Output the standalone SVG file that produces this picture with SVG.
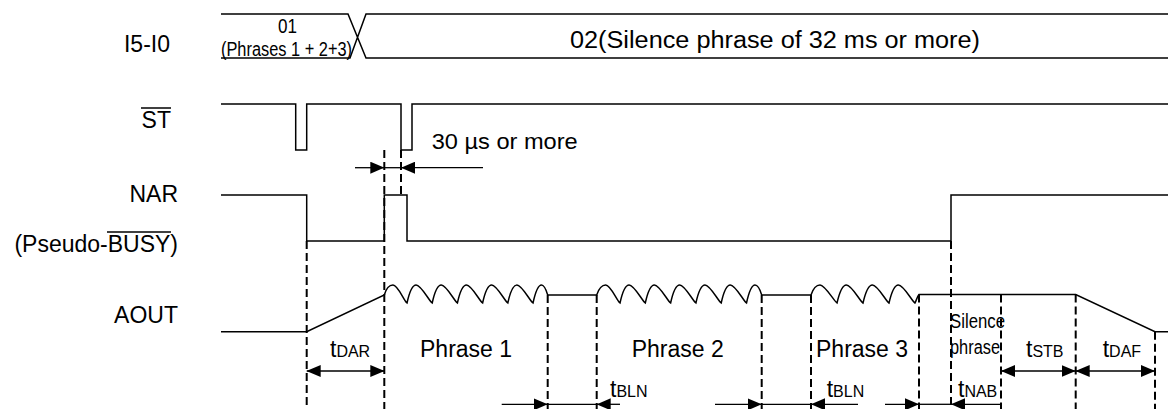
<svg xmlns="http://www.w3.org/2000/svg" width="1168" height="409" viewBox="0 0 1168 409">
<style>
text{font-family:"Liberation Sans",Arial,sans-serif;fill:#000}
.lb{font-size:23px;text-anchor:end}
.t{font-size:23px}
.sub{font-size:16px}
.sig{fill:none;stroke:#000;stroke-width:1.5}
.dash{fill:none;stroke:#000;stroke-width:2;stroke-dasharray:8 4}
.dim{fill:none;stroke:#000;stroke-width:1.3}
.ol{stroke:#000;stroke-width:1.5}
</style>
<defs>
<marker id="ah" viewBox="0 0 14 12" refX="14" refY="6" markerWidth="14" markerHeight="12" markerUnits="userSpaceOnUse" orient="auto-start-reverse"><path d="M0,0 L14,6 L0,12 Z" fill="#000"/></marker>
</defs>
<rect width="1168" height="409" fill="#fff"/>

<g id="labels">
<text class="lb" x="170" y="52">I5-I0</text>
<text class="lb" x="171" y="128">ST</text>
<line class="ol" x1="141" y1="108" x2="171" y2="108"/>
<text class="lb" x="178" y="202">NAR</text>
<text class="lb" x="178" y="252">(Pseudo-BUSY)</text>
<line class="ol" x1="107" y1="232" x2="171" y2="232"/>
<text class="lb" x="178" y="323">AOUT</text>
</g>

<g id="bus-I5-I0">
<path class="sig" d="M221,14 H348 L366,58 H1168 M221,58 H350 L366,14 H1168"/>
<text x="287.5" y="33" style="font-size:20px" text-anchor="middle" textLength="19" lengthAdjust="spacingAndGlyphs">01</text>
<text x="221" y="56" style="font-size:20px" textLength="131" lengthAdjust="spacingAndGlyphs">(Phrases 1 + 2+3)</text>
<text x="570" y="48" class="t" textLength="410" lengthAdjust="spacingAndGlyphs">02(Silence phrase of 32 ms or more)</text>
</g>

<g id="signal-ST">
<path class="sig" d="M221,104 H295.7 V150 H306.7 V104 H401 V150 H412 V104 H1168"/>
</g>

<g id="signal-NAR">
<path class="sig" d="M221,195 H306.7 V241 H384.3 V195 H407 V241 H951 V195 H1168"/>
</g>

<g id="signal-AOUT">
<path class="sig" d="M221,331.7 H306.7 L384.3,295
C386,289 389,285 393,285 C398,285 404,301 407,303
C409,294 412,285 416.1,285 C421.1,285 429.2,301 432.2,303
C434.2,294 437.2,285 441.3,285 C446.3,285 454.4,301 457.4,303
C459.4,294 462.4,285 466.5,285 C471.5,285 479.6,301 482.6,303
C484.6,294 487.6,285 491.7,285 C496.7,285 504.8,301 507.8,303
C509.8,294 512.8,285 516.9,285 C521.9,285 530,301 533,303
C535,294 538,285 541.5,285 C544.5,285 546.5,291 547.7,295
H596.7
C598.7,289 601.7,285 605.7,285 C610.7,285 617,301 620,303
C622,294 625.1,285 629.1,285 C634.2,285 642.3,301 645.3,303
C647.3,294 650.4,285 654.4,285 C659.5,285 667.6,301 670.6,303
C672.6,294 675.7,285 679.7,285 C684.8,285 692.9,301 695.9,303
C697.9,294 701,285 705,285 C710.1,285 718.2,301 721.2,303
C723.2,294 726.3,285 730.3,285 C735.4,285 743.5,301 746.5,303
C748.5,294 751.5,285 755,285 C758,285 760.5,291 761.7,295
H811
C813,289 816,285 820,285 C825,285 834,301 837,303
C839.1,294 842.2,285 846.4,285 C851.6,285 859.9,301 863,303
C865.1,294 868.2,285 872.4,285 C877.6,285 885.9,301 889,303
C891.1,294 894.2,285 898.4,285 C903.6,285 911.9,301 915,303
C916.5,300 917.5,296 919,294.5
H1075.7 L1155,331.7 H1168"/>
</g>

<g id="connectors">
<path class="dash" d="M306.7,241 V409 M384.3,150 V409 M401,150 V195 M547.7,295 V409 M596.7,295 V409 M761.7,295 V409 M811,295 V409 M919,294.5 V409 M951,241 V409 M1001,294.5 V409 M1075.7,294.5 V409 M1155,331.7 V409"/>
<line class="dim" x1="355" y1="167.7" x2="384.3" y2="167.7" marker-end="url(#ah)"/>
<line class="dim" x1="384.3" y1="167.7" x2="401" y2="167.7"/>
<line class="dim" x1="483" y1="167.7" x2="401" y2="167.7" marker-end="url(#ah)"/>
<line class="dim" x1="306.7" y1="371" x2="384.3" y2="371" marker-start="url(#ah)" marker-end="url(#ah)"/>
<line class="dim" x1="1001" y1="371" x2="1075.7" y2="371" marker-start="url(#ah)" marker-end="url(#ah)"/>
<line class="dim" x1="1075.7" y1="371" x2="1155" y2="371" marker-start="url(#ah)" marker-end="url(#ah)"/>
<line class="dim" x1="501.7" y1="404.3" x2="547.7" y2="404.3" marker-end="url(#ah)"/>
<line class="dim" x1="547.7" y1="404.3" x2="596.7" y2="404.3"/>
<line class="dim" x1="620" y1="404.3" x2="596.7" y2="404.3" marker-end="url(#ah)"/>
<line class="dim" x1="715" y1="404.3" x2="761.7" y2="404.3" marker-end="url(#ah)"/>
<line class="dim" x1="761.7" y1="404.3" x2="811" y2="404.3"/>
<line class="dim" x1="858" y1="404.3" x2="811" y2="404.3" marker-end="url(#ah)"/>
<line class="dim" x1="885" y1="404.3" x2="919" y2="404.3" marker-end="url(#ah)"/>
<line class="dim" x1="919" y1="404.3" x2="951" y2="404.3"/>
<line class="dim" x1="1001" y1="404.3" x2="951" y2="404.3" marker-end="url(#ah)"/>
</g>

<g id="annotations">
<text x="431.7" y="149.3" style="font-size:22px" textLength="146" lengthAdjust="spacingAndGlyphs">30 µs or more</text>
<text class="t" x="330" y="357">t<tspan class="sub">DAR</tspan></text>
<text class="t" x="420" y="357">Phrase 1</text>
<text class="t" x="631.7" y="357">Phrase 2</text>
<text class="t" x="816" y="357">Phrase 3</text>
<text x="950" y="328" style="font-size:20px" textLength="55" lengthAdjust="spacingAndGlyphs">Silence</text>
<text x="950" y="354" style="font-size:20px" textLength="50" lengthAdjust="spacingAndGlyphs">phrase</text>
<text class="t" x="1026" y="357">t<tspan class="sub">STB</tspan></text>
<text class="t" x="1102.7" y="357">t<tspan class="sub">DAF</tspan></text>
<text class="t" x="610" y="397">t<tspan class="sub">BLN</tspan></text>
<text class="t" x="826.7" y="397">t<tspan class="sub">BLN</tspan></text>
<text class="t" x="958" y="397">t<tspan class="sub">NAB</tspan></text>
</g>
</svg>
